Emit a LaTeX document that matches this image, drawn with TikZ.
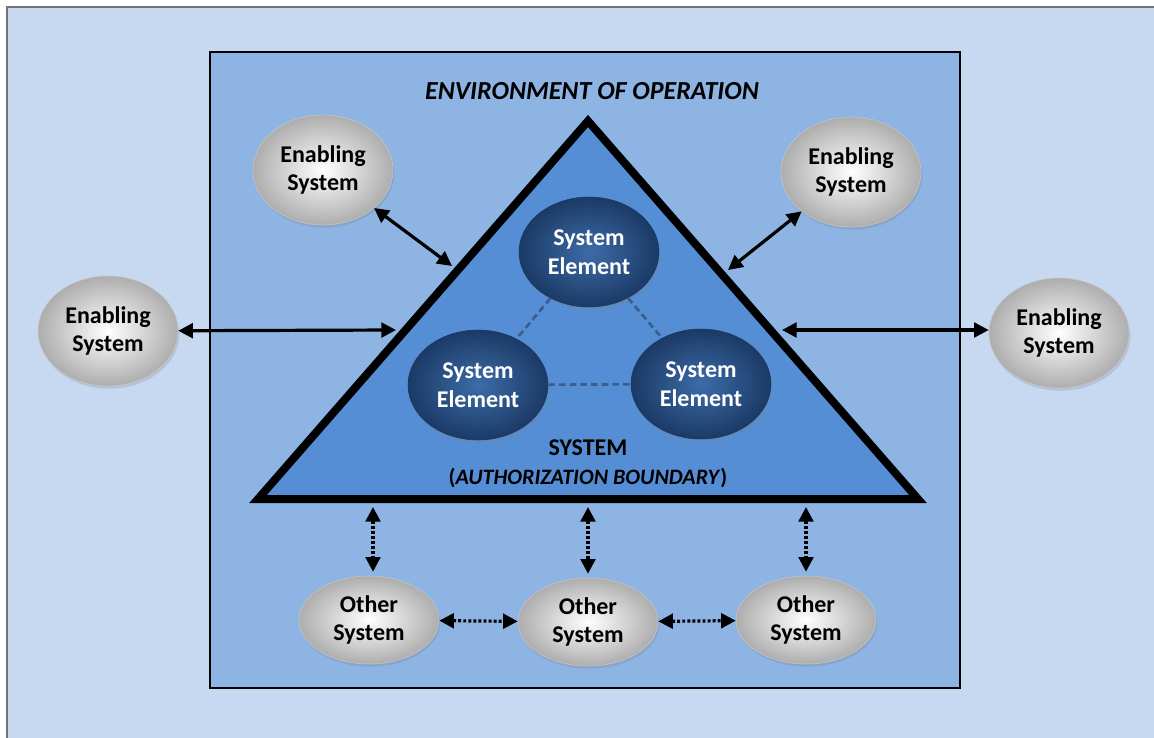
\documentclass[tikz,border=0pt]{standalone}
\usepackage{fontspec}
\setmainfont{Carlito}
\usepackage{tikz}
\usetikzlibrary{shapes.geometric, arrows.meta, shadows}

\definecolor{pagebg}{HTML}{C6D9F1}
\definecolor{envfill}{HTML}{8DB4E2}
\definecolor{sysfill}{HTML}{558ED5}
\definecolor{elemin}{HTML}{3D6CA8}
\definecolor{elemout}{HTML}{1B3A66}
\definecolor{dashcol}{HTML}{3B5E8C}

\tikzstyle{ovalfont} = [font=\fontsize{18}{21.5}\selectfont\bfseries, align=center]
\tikzstyle{enabling} = [ellipse, ovalfont, minimum width=105pt, minimum height=82.5pt, inner sep=0pt, draw=black!22, shading=radial, inner color=white, outer color=black!32, drop shadow={shadow xshift=1pt, shadow yshift=-2pt, opacity=0.25}]
\tikzstyle{other} = [enabling, minimum height=66pt]
\tikzstyle{element} = [ellipse, ovalfont, minimum width=105pt, minimum height=82.5pt, inner sep=0pt, draw=elemout, shading=radial, inner color=elemin, outer color=elemout, text=white, drop shadow={shadow xshift=1pt, shadow yshift=-2pt, opacity=0.3}]
\tikzstyle{arrow} = [line width=2.4pt, {Triangle[length=11pt,width=11pt]}-{Triangle[length=11pt,width=11pt]}]
\tikzstyle{dotarrow} = [arrow, dash pattern=on 2.2pt off 1.6pt]
\tikzstyle{elink} = [dashcol, line width=2pt, dash pattern=on 5pt off 3pt]

\begin{document}
\begin{tikzpicture}[x=0.75pt, y=-0.75pt]
\useasboundingbox (0,0) rectangle (1154,738);
% background and environment
\draw[fill=pagebg, draw=black!55, line width=1.2pt] (7,7) rectangle (1175,760);
\draw[fill=envfill, line width=1.6pt] (210,52) rectangle (960,688);
\node[font=\fontsize{19.5}{23}\selectfont\bfseries\itshape] (envtitle) at (592,91) {ENVIRONMENT OF OPERATION};

% system boundary
\draw[fill=sysfill, line width=6pt, line join=miter] (588,121) -- (918,499) -- (258,499) -- cycle;
\node[ovalfont] (syslabel) at (588,464) {SYSTEM\\{\fontsize{16.5}{20}\selectfont(\textit{AUTHORIZATION BOUNDARY})}};

% anchor points on the boundary
\coordinate (sideTL) at (452,266);
\coordinate (sideTR) at (728,270);
\coordinate (sideL) at (396,330);
\coordinate (sideR) at (782,330);
\coordinate (base1) at (373,507);
\coordinate (base2) at (588,507);
\coordinate (base3) at (806,507);

% system elements
\node[element] (elTop) at (589,252) {System\\Element};
\node[element] (elLeft) at (478,385) {System\\Element};
\node[element] (elRight) at (701,384) {System\\Element};
\draw[elink] (elTop) -- (elLeft);
\draw[elink] (elTop) -- (elRight);
\draw[elink] (elLeft) -- (elRight);

% enabling systems
\node[enabling] (enTL) at (323,170) {Enabling\\System};
\node[enabling] (enTR) at (851,172) {Enabling\\System};
\node[enabling] (enL) at (108,331) {Enabling\\System};
\node[enabling] (enR) at (1059,333) {Enabling\\System};
\draw[arrow] (enTL) -- (sideTL);
\draw[arrow] (enTR) -- (sideTR);
\draw[arrow] (enL) -- (sideL);
\draw[arrow] (sideR) -- (enR.west |- sideR);

% other systems
\node[other] (osLeft) at (369,620) {Other\\System};
\node[other] (osMid) at (588,622) {Other\\System};
\node[other] (osRight) at (806,620) {Other\\System};
\draw[dotarrow] (base1) -- ([yshift=3pt]base1 |- osLeft.north);
\draw[dotarrow] (base2) -- ([yshift=3pt]base2 |- osMid.north);
\draw[dotarrow] (base3) -- ([yshift=3pt]base3 |- osRight.north);
\draw[dotarrow] (osLeft) -- (osMid);
\draw[dotarrow] (osMid) -- (osRight);
\end{tikzpicture}
\end{document}
